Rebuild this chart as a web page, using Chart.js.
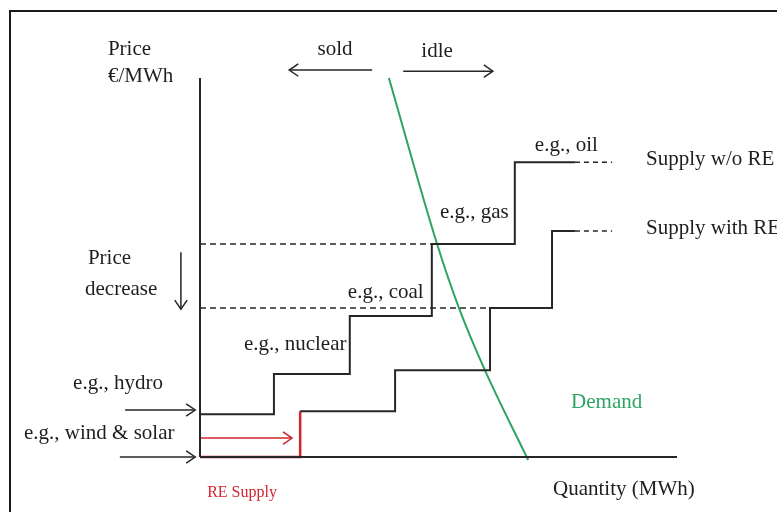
<!DOCTYPE html>
<html>
<head>
<meta charset="utf-8">
<script src="https://cdn.jsdelivr.net/npm/chart.js@4/dist/chart.umd.min.js"></script>
<style>
  body { margin: 0; background: #fff; }
  #wrap { width: 777px; height: 512px; }
</style>
</head>
<body>
<div id="wrap"><canvas id="myChart" width="777" height="512"></canvas></div>
<script>
// merit order: quantity breakpoints and price levels (arbitrary units 0..100)
const woQuantity = [0, 15.5, 31.4, 48.6, 66.0, 78.6];
const woPrice    = [11.3, 21.9, 37.2, 56.2, 77.8, 77.8];

const withQuantity = [21.0, 40.9, 60.8, 73.8, 78.6];
const withPrice    = [12.1, 22.9, 39.3, 59.6, 59.6];

const reQuantity = [0, 21.0, 21.0];
const rePrice    = [0, 0, 12.1];

const tailQuantity = [78.6, 86.4];

const demandQuantity = [39.6, 49.7, 54.3, 59.7, 68.8];
const demandPrice    = [100, 56.2, 39.3, 23.0, -0.8];

const axisMax = 100;

const BLACK = '#262626';
const GREEN = '#2ea463';
const RED = '#d0262e';

function pts(xs, ys) {
  let out = [];
  for (let i = 0; i < xs.length; i++) out.push({x: xs[i], y: ys[i]});
  return out;
}

// steps: horizontal at the current price until the next quantity, then up
function steps(xs, ys) {
  let out = [{x: xs[0], y: ys[0]}];
  for (let i = 1; i < xs.length; i++) {
    out.push({x: xs[i], y: ys[i - 1]});
    out.push({x: xs[i], y: ys[i]});
  }
  return out;
}

const datasets = [
  // axes
  { data: pts([0, 0], [axisMax, 0]), borderColor: BLACK, borderWidth: 2 },
  { data: pts([0, axisMax], [0, 0]), borderColor: BLACK, borderWidth: 2 },
  // supply without RE
  { data: steps(woQuantity, woPrice), borderColor: BLACK, borderWidth: 2 },
  { data: pts(tailQuantity, [woPrice[woPrice.length - 1], woPrice[woPrice.length - 1]]), borderColor: BLACK, borderWidth: 1.5, borderDash: [5, 4] },
  // supply with RE
  { data: steps(withQuantity, withPrice), borderColor: BLACK, borderWidth: 2 },
  { data: pts(tailQuantity, [withPrice[withPrice.length - 1], withPrice[withPrice.length - 1]]), borderColor: BLACK, borderWidth: 1.5, borderDash: [5, 4] },
  { data: pts(reQuantity, rePrice), borderColor: RED, borderWidth: 2.5 },
  // price levels
  { data: pts([0, woQuantity[3]], [woPrice[3], woPrice[3]]), borderColor: BLACK, borderWidth: 1.5, borderDash: [6, 4] },
  { data: pts([0, withQuantity[2]], [withPrice[2], withPrice[2]]), borderColor: BLACK, borderWidth: 1.5, borderDash: [6, 4] },
  // demand
  { data: pts(demandQuantity, demandPrice), borderColor: GREEN, borderWidth: 2, cubicInterpolationMode: 'monotone' },
  // arrows
  { data: pts([36.1, 18.7], [102.1, 102.1]), borderColor: BLACK, borderWidth: 1.5, arrow: true },
  { data: pts([42.6, 61.4], [101.8, 101.8]), borderColor: BLACK, borderWidth: 1.5, arrow: true },
  { data: pts([-4.0, -4.0], [54.0, 39.0]), borderColor: BLACK, borderWidth: 1.5, arrow: true },
  { data: pts([-15.7, -1.0], [12.4, 12.4]), borderColor: BLACK, borderWidth: 1.5, arrow: true },
  { data: pts([-16.8, -1.0], [0, 0]), borderColor: BLACK, borderWidth: 1.5, arrow: true },
  { data: pts([0, 19.3], [5.0, 5.0]), borderColor: RED, borderWidth: 1.5, arrow: true }
];
datasets.forEach(d => { d.showLine = true; d.pointRadius = 0; d.fill = false; d.clip = false; });

const labels = [
  { text: 'Price', x: -19.3, y: 107.6 },
  { text: '€/MWh', x: -19.3, y: 100.4 },
  { text: 'sold', x: 28.3, y: 107.4, align: 'center' },
  { text: 'idle', x: 49.7, y: 106.9, align: 'center' },
  { text: 'e.g., oil', x: 70.2, y: 82.3 },
  { text: 'Supply w/o RE', x: 93.5, y: 78.4 },
  { text: 'e.g., gas', x: 50.3, y: 64.4 },
  { text: 'Supply with RE', x: 93.5, y: 60.4 },
  { text: 'Price', x: -23.5, y: 52.5 },
  { text: 'decrease', x: -24.1, y: 44.1 },
  { text: 'e.g., coal', x: 31.0, y: 43.3 },
  { text: 'e.g., nuclear', x: 9.2, y: 29.6 },
  { text: 'e.g., hydro', x: -26.6, y: 19.3 },
  { text: 'e.g., wind & solar', x: -36.9, y: 6.3 },
  { text: 'Demand', x: 77.8, y: 14.5, color: GREEN },
  { text: 'RE Supply', x: 1.5, y: -9.5, color: RED, size: 16 },
  { text: 'Quantity (MWh)', x: 74.0, y: -8.7 }
];

const diagramPlugin = {
  id: 'diagram',
  beforeDraw(chart) {
    const ctx = chart.ctx;
    ctx.save();
    ctx.fillStyle = '#fff';
    ctx.fillRect(0, 0, chart.width, chart.height);
    ctx.strokeStyle = '#1a1a1a';
    ctx.lineWidth = 2;
    ctx.strokeRect(10, 11, chart.width + 20, chart.height + 20);
    ctx.restore();
  },
  afterDatasetsDraw(chart) {
    const ctx = chart.ctx;
    chart.data.datasets.forEach((ds, i) => {
      if (!ds.arrow) return;
      const pts = chart.getDatasetMeta(i).data;
      const a = pts[pts.length - 2], b = pts[pts.length - 1];
      const ang = Math.atan2(b.y - a.y, b.x - a.x);
      const len = 11, spread = 0.6;
      ctx.save();
      ctx.strokeStyle = ds.borderColor;
      ctx.lineWidth = 1.5;
      ctx.beginPath();
      ctx.moveTo(b.x - len * Math.cos(ang - spread), b.y - len * Math.sin(ang - spread));
      ctx.lineTo(b.x, b.y);
      ctx.lineTo(b.x - len * Math.cos(ang + spread), b.y - len * Math.sin(ang + spread));
      ctx.stroke();
      ctx.restore();
    });
  },
  afterDraw(chart) {
    const ctx = chart.ctx;
    const sx = chart.scales.x, sy = chart.scales.y;
    ctx.save();
    ctx.textBaseline = 'middle';
    labels.forEach(l => {
      ctx.font = (l.size || 21) + 'px "Liberation Serif", "Times New Roman", serif';
      ctx.fillStyle = l.color || '#1e1e1e';
      ctx.textAlign = l.align || 'left';
      ctx.fillText(l.text, sx.getPixelForValue(l.x), sy.getPixelForValue(l.y));
    });
    ctx.restore();
  }
};

const config = {
  type: 'scatter',
  data: { datasets: datasets },
  options: {
    responsive: false,
    animation: false,
    layout: { padding: { left: 200, right: 100, top: 78, bottom: 55 } },
    scales: {
      x: { type: 'linear', min: 0, max: axisMax, display: false },
      y: { type: 'linear', min: 0, max: axisMax, display: false }
    },
    plugins: { legend: { display: false }, tooltip: { enabled: false } }
  },
  plugins: [diagramPlugin]
};

const myChart = new Chart(document.getElementById('myChart'), config);
</script>
</body>
</html>
